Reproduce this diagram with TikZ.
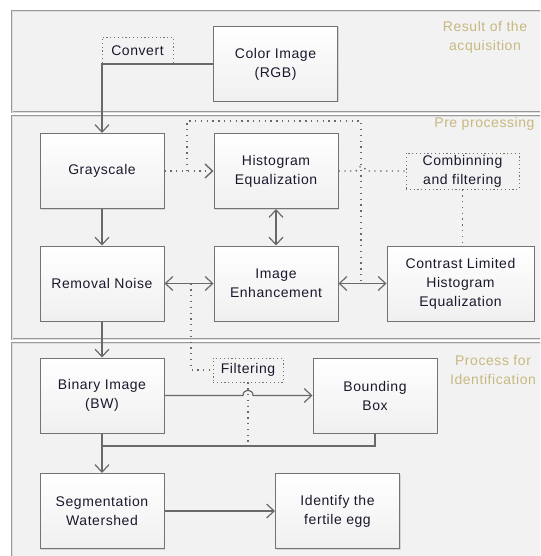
\documentclass[tikz,border=0pt]{standalone}
\usepackage{fontspec}
\setmainfont{Liberation Sans}[LetterSpace=4]
\usetikzlibrary{arrows.meta,shadows,calc}
\definecolor{linie}{RGB}{105,105,105}
\definecolor{rahmen}{RGB}{115,115,115}
\definecolor{flaeche}{RGB}{242,242,242}
\definecolor{titel}{RGB}{200,184,128}
\definecolor{schrift}{RGB}{25,25,45}

\tikzset{
  bereich/.style={fill=flaeche, draw=gray!80, double=gray!25, double distance=0.8pt, line width=0.6pt},
  block/.style={draw=rahmen, line width=1pt, top color=white, bottom color=gray!12, text=schrift,
    align=center, minimum width=124pt, minimum height=75pt, inner sep=2pt,
    drop shadow={shadow xshift=1pt, shadow yshift=-1pt, opacity=0.25}},
  notiz/.style={draw=rahmen, dash pattern=on 1.2pt off 2.6pt, line width=0.9pt, text=schrift, align=center, inner sep=1pt},
  fluss/.style={linie, line width=1.2pt},
  punkt/.style={linie, line width=1.4pt, dash pattern=on 1.3pt off 4.5pt},
  spitze/.style={-{Straight Barb[length=7.5pt,width=14pt]}},
  doppel/.style={{Straight Barb[length=7.5pt,width=14pt]}-{Straight Barb[length=7.5pt,width=14pt]}},
  titeltext/.style={text=titel, align=center}
}

\begin{document}
\begin{tikzpicture}[x=1pt, y=-1pt, font=\fontsize{14}{19}\selectfont]

    \clip (0,0) rectangle (540,556);
    \fill[white] (0,0) rectangle (540,556);

    % die drei Bereiche
    \draw[bereich] (12,11) rectangle (548,112);
    \draw[bereich] (12,116) rectangle (548,339);
    \draw[bereich] (12,343) rectangle (548,562);

    \node[titeltext] (titelA) at (485,37) {Result of the\\acquisition};
    \node[titeltext, anchor=east] (titelB) at (538,124) {Pre processing};
    \node[titeltext] (titelC) at (493,370) {Process for\\Identification};

    % Bloecke
    \node[block] (farbe) at (275.5,64) {Color Image\\(RGB)};
    \node[block] (grau) at (102,171) {Grayscale};
    \node[block] (histo) at (276,171) {Histogram\\Equalization};
    \node[block] (rausch) at (102,283.5) {Removal Noise};
    \node[block] (verbess) at (276,283.5) {Image\\Enhancement};
    \node[block, minimum width=147pt] (clahe) at (460.5,283.5) {Contrast Limited\\Histogram\\Equalization};
    \node[block] (binaer) at (102,395.5) {Binary Image\\(BW)};
    \node[block] (box) at (375,395.5) {Bounding\\Box};
    \node[block] (segment) at (102,511) {Segmentation\\Watershed};
    \node[block] (ei) at (337.5,511) {Identify the\\fertile egg};

    \node[notiz, minimum width=71pt, minimum height=27pt] (konv) at (137.5,50.5) {Convert};
    \node[notiz, minimum width=113pt, minimum height=36pt] (kombi) at (462.5,171) {Combinning\\and filtering};
    \node[notiz, minimum width=70pt, minimum height=24pt] (filter) at (248,370) {Filtering};

    % Hilfspunkte
    \coordinate (oben1) at (187,121);
    \coordinate (oben2) at (361,121);
    \coordinate (abzweig) at (191,283.5);
    \coordinate (sammel) at (102,446);

    % gepunktete Verbindungen
    \draw[punkt, spitze] (grau) -- (histo);
    \draw[punkt] (oben1 |- grau.east) -- (oben1) -- (oben2) -- (oben2 |- verbess.east);
    \draw[punkt] (histo.east) -- ($(oben2 |- histo.east)+(-5,0)$)
        .. controls +(0,-6) and +(0,-6) .. ($(oben2 |- histo.east)+(5,0)$) -- (kombi.west);
    \draw[punkt] (kombi.south) -- (kombi.south |- clahe.north);
    \draw[punkt] (abzweig) |- (filter.west);
    \draw[punkt] (filter.south) -- (filter.south |- sammel);

    % durchgezogene Verbindungen
    \draw[fluss, spitze] (farbe.west) -| (grau.north);
    \draw[fluss, spitze] (grau) -- (rausch);
    \draw[fluss, spitze] (rausch) -- (binaer);
    \draw[fluss, doppel] (histo) -- (verbess);
    \draw[fluss, doppel] (rausch) -- (verbess);
    \draw[fluss, doppel] (verbess) -- (clahe);
    \draw[fluss, spitze] (binaer.east) -- ($(filter.south |- binaer.east)+(-5,0)$)
        .. controls +(0,-7) and +(0,-7) .. ($(filter.south |- binaer.east)+(5,0)$) -- (box.west);
    \draw[fluss] (box.south) |- (sammel);
    \draw[fluss, spitze] (binaer) -- (segment);
    \draw[fluss, spitze] (segment) -- (ei);

\end{tikzpicture}
\end{document}
